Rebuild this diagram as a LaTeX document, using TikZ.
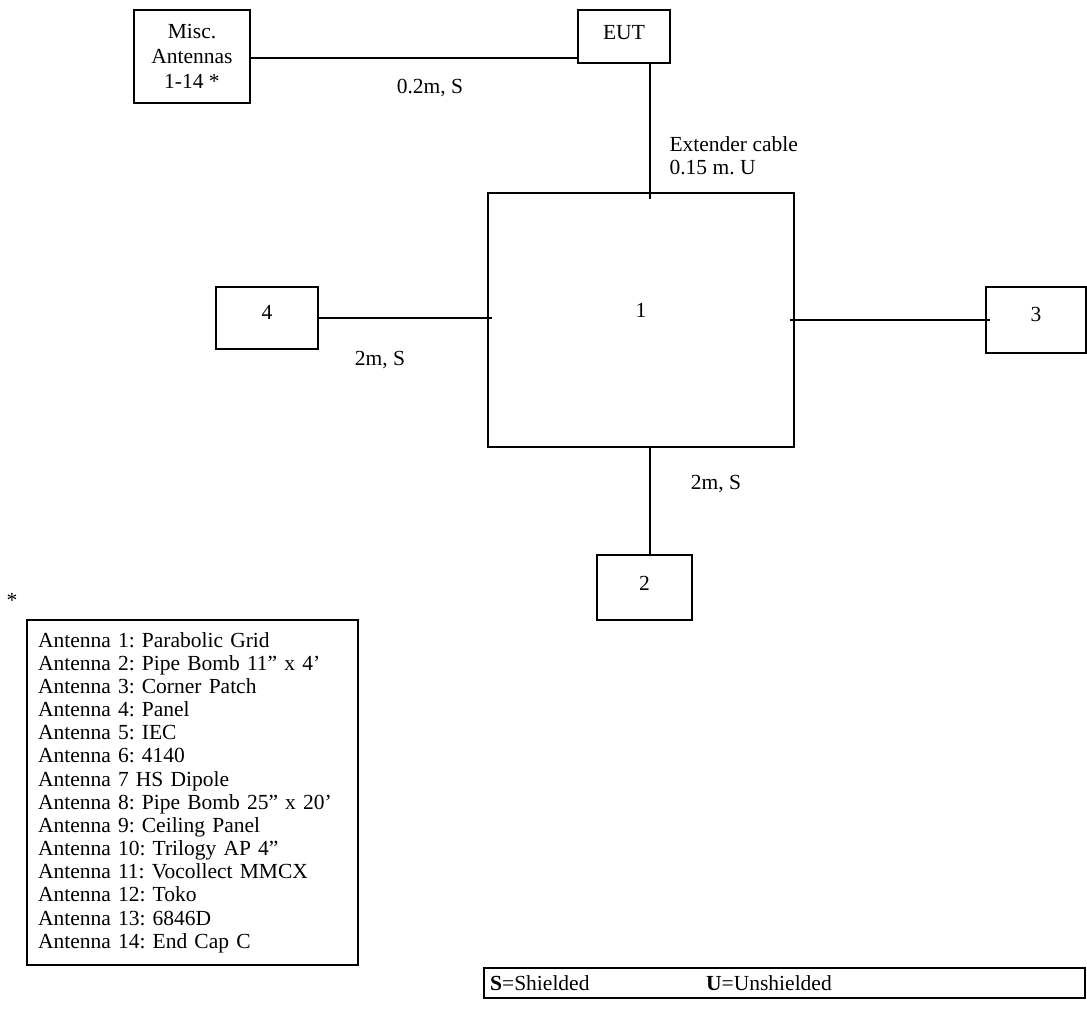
\documentclass[tikz,border=0pt]{standalone}
\usepackage{fontspec}
\setmainfont{Liberation Serif}
\usetikzlibrary{calc}
\begin{document}
\frenchspacing
\begin{tikzpicture}[x=1pt,y=-1pt,
  every node/.style={font=\fontsize{21.5}{23.15}\selectfont},
  box/.style={draw, line width=1.2pt, inner sep=0pt},
  wire/.style={line width=1.2pt}]
\useasboundingbox (0,0) rectangle (1087,1029);
% boxes
\node[box, minimum width=116pt, minimum height=93pt, align=center, font=\fontsize{21.5}{25}\selectfont] (misc) at (192,56.5) {Misc.\\Antennas\\1-14 *};
\node[box, minimum width=92pt, minimum height=53pt, text depth=8pt] (eut) at (624,36.5) {EUT};
\node[box, minimum width=306pt, minimum height=254pt, text depth=20pt] (main) at (641,320) {1};
\node[box, minimum width=102pt, minimum height=62pt, text depth=12pt] (b4) at (267,318) {4};
\node[box, minimum width=100pt, minimum height=66pt, text depth=12pt] (b3) at (1036,320) {3};
\node[box, minimum width=95pt, minimum height=65pt, text depth=8pt] (b2) at (644.5,587.5) {2};
% connectors
\draw[wire] (misc.east |- 0,58) -- (eut.west |- 0,58);
\draw[wire] (eut.south -| 650,0) -- ($(main.north -| 650,0)+(0,7)$);
\draw[wire] (b4.east) -- ($(main.west |- b4.east)+(5,0)$);
\draw[wire] ($(main.east |- b3.west)+(-5,0)$) -- ($(b3.west)+(5,0)$);
\draw[wire] (main.south -| 650,0) -- (b2.north -| 650,0);
% labels
\node (l1) at (430,88) {0.2m, S};
\node[anchor=west, align=left] (lext) at (666,156) {Extender cable\\0.15 m. U};
\node (l4) at (380,360) {2m, S};
\node (l2) at (716,484) {2m, S};
\node (star) at (12,600) {*};
% legend
\node[box, minimum width=331pt, minimum height=345pt, text width=309pt, align=left] (legend) at (192.5,792.5) {%
Antenna 1: Parabolic Grid\\
Antenna 2: Pipe Bomb 11” x 4’\\
Antenna 3: Corner Patch\\
Antenna 4: Panel\\
Antenna 5: IEC\\
Antenna 6: 4140\\
Antenna 7 HS Dipole\\
Antenna 8: Pipe Bomb 25” x 20’\\
Antenna 9: Ceiling Panel\\
Antenna 10: Trilogy AP 4”\\
Antenna 11: Vocollect MMCX\\
Antenna 12: Toko\\
Antenna 13: 6846D\\
Antenna 14: End Cap C};
\node[box, minimum width=601pt, minimum height=30pt] (su) at (784.5,983) {};
\node[anchor=west, inner sep=0pt] (sh) at (490,983) {\textbf{S}=Shielded};
\node[anchor=west, inner sep=0pt] (us) at (706,983) {\textbf{U}=Unshielded};
\end{tikzpicture}
\end{document}
